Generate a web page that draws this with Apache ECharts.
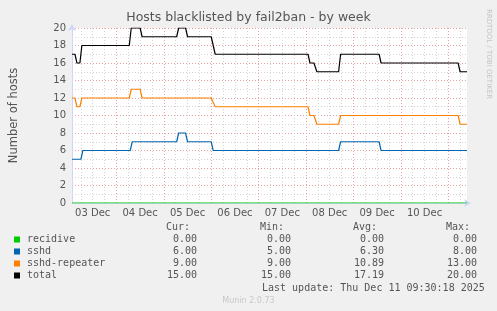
<!DOCTYPE html>
<html><head><meta charset="utf-8">
<script src="https://cdn.jsdelivr.net/npm/echarts@6/dist/echarts.min.js"></script>
<style>html,body{margin:0;padding:0;background:#F0F0F0}#c{width:497px;height:311px}</style>
</head><body><div id="c"></div>
<script>
// ---- data (change points) ----
const year = '2025-';
const recidive = [['12-03 01:30',0],['12-11 09:30',0]];
const sshd = [['12-03 01:30',5],['12-03 06:00',5],['12-03 07:00',6],['12-04 07:00',6],['12-04 08:00',7],
  ['12-05 06:30',7],['12-05 07:30',8],['12-05 11:00',8],['12-05 12:00',7],['12-06 00:00',7],['12-06 01:00',6],
  ['12-08 16:30',6],['12-08 17:30',7],['12-09 13:00',7],['12-09 14:00',6],['12-11 09:30',6]];
const sshdRepeater = [['12-03 01:30',12],['12-03 03:00',12],['12-03 04:00',11],['12-03 05:30',11],['12-03 06:30',12],
  ['12-04 06:30',12],['12-04 07:30',13],['12-04 12:00',13],['12-04 13:00',12],['12-06 00:00',12],['12-06 02:00',11],
  ['12-08 01:00',11],['12-08 02:00',10],['12-08 04:00',10],['12-08 05:30',9],['12-08 16:30',9],['12-08 17:30',10],
  ['12-11 05:00',10],['12-11 06:00',9],['12-11 09:30',9]];
const total = [['12-03 01:30',17],['12-03 03:00',17],['12-03 04:00',16],['12-03 05:30',16],['12-03 06:30',18],
  ['12-04 06:30',18],['12-04 07:30',20],['12-04 12:00',20],['12-04 13:00',19],['12-05 06:30',19],['12-05 07:30',20],
  ['12-05 11:00',20],['12-05 12:00',19],['12-06 00:00',19],['12-06 01:00',18],['12-06 02:00',17],
  ['12-08 01:00',17],['12-08 02:00',16],['12-08 04:00',16],['12-08 05:30',15],['12-08 16:30',15],['12-08 17:30',17],
  ['12-09 13:00',17],['12-09 14:00',16],['12-11 05:00',16],['12-11 06:00',15],['12-11 09:30',15]];
const dayLabels = ['03 Dec','04 Dec','05 Dec','06 Dec','07 Dec','08 Dec','09 Dec','10 Dec'];
const yTicks = [0,2,4,6,8,10,12,14,16,18,20];
const seriesNames = ['recidive','sshd','sshd-repeater','total'];
const seriesColors = ['#00CC00','#0066B3','#FF8000','#000000'];
const statHeaders = ['Cur:','Min:','Avg:','Max:'];
const statCur = ['0.00','6.00','9.00','15.00'];
const statMin = ['0.00','5.00','9.00','15.00'];
const statAvg = ['0.00','6.30','10.89','17.19'];
const statMax = ['0.00','8.00','13.00','20.00'];
const lastUpdate = 'Last update: Thu Dec 11 09:30:18 2025';
const startTime = '12-03 01:30', endTime = '12-11 09:30';

// ---- build ----
const seriesData = [recidive, sshd, sshdRepeater, total];
const toPts = arr => arr.map(p => [year + p[0], p[1]]);
const slots = [];
for (let i = 0; i <= 400; i++) slots.push(90 + i * 30); // minutes since Dec 3 00:00
const slotNames = slots.map(m => 's' + m);
const minOf = v => parseInt(String(v).slice(1), 10);
const isNoon = (i) => slots[i] % 1440 === 720;
const isMid = (i) => slots[i] % 1440 === 0;
const isSix = (i) => slots[i] % 360 === 0 && !isMid(i);

const FONT = 'DejaVu Sans';
const MONO = 'DejaVu Sans Mono';
const txtCol = '#555555';
const graphics = [];
const rowY = [239.5, 251.5, 263.5, 275.5];
const colX = [197, 291, 384, 477];
const hdrX = [190, 284, 377, 470];
const stats = [statCur, statMin, statAvg, statMax];
statHeaders.forEach((h, j) => graphics.push({type:'text', style:{text:h, x:hdrX[j], y:227.5, fill:txtCol,
  fontFamily:MONO, fontSize:10, textAlign:'right', align:'right', textVerticalAlign:'middle', verticalAlign:'middle'}}));
seriesNames.forEach((n, i) => {
  graphics.push({type:'rect', shape:{x:14, y:rowY[i]-3, width:6, height:6}, style:{fill:seriesColors[i]}});
  graphics.push({type:'text', style:{text:n, x:27, y:rowY[i], fill:txtCol, fontFamily:MONO, fontSize:10,
    textVerticalAlign:'middle', verticalAlign:'middle'}});
  stats.forEach((s, j) => graphics.push({type:'text', style:{text:s[i], x:colX[j], y:rowY[i], fill:txtCol,
    fontFamily:MONO, fontSize:10, textAlign:'right', align:'right', textVerticalAlign:'middle', verticalAlign:'middle'}}));
});
graphics.push({type:'text', style:{text:lastUpdate, x:262, y:288, fill:txtCol, fontFamily:MONO, fontSize:10,
  textVerticalAlign:'middle', verticalAlign:'middle'}});
graphics.push({type:'text', style:{text:'Munin 2.0.73', x:248.5, y:300.5, fill:'#c8c8c8', fontFamily:FONT, fontSize:8,
  textAlign:'center', align:'center', textVerticalAlign:'middle', verticalAlign:'middle'}});
graphics.push({type:'text', x:488.5, y:54, rotation:-Math.PI/2, style:{text:'RRDTOOL / TOBI OETIKER', x:0, y:0,
  fill:'#c4c4c4', fontFamily:FONT, fontSize:7, textAlign:'center', align:'center', textVerticalAlign:'middle', verticalAlign:'middle'}});

const chart = echarts.init(document.getElementById('c'), null, {renderer:'canvas'});
const axisBlue = '#CFD6F8';
chart.setOption({
  animation:false,
  backgroundColor:'#F0F0F0',
  textStyle:{fontFamily:FONT},
  title:{text:'Hosts blacklisted by fail2ban - by week', left:'center', top:11, padding:0,
    textStyle:{fontSize:12.5, fontWeight:'normal', color:txtCol, fontFamily:FONT}},
  grid:{left:67, top:28, width:400, height:175, show:true, backgroundColor:'#ffffff', borderWidth:0},
  xAxis:[
    {type:'time', position:'bottom', min:year+startTime, max:year+endTime, show:false},
    {type:'category', position:'bottom', data:slotNames, boundaryGap:false,
      axisLine:{show:true, lineStyle:{color:axisBlue, width:1}, symbol:['none','arrow'], symbolSize:[6,7], symbolOffset:[0,4]},
      axisTick:{show:false},
      axisLabel:{interval:(i)=>isNoon(i), margin:5, fontSize:10, color:txtCol, fontFamily:FONT,
        formatter:(v)=>dayLabels[Math.floor(minOf(v)/1440)]},
      splitLine:{show:true, interval:(i)=>isSix(i), lineStyle:{color:'#d4d4d4', type:[1,2], width:1}}},
    {type:'category', position:'bottom', data:slotNames, boundaryGap:false,
      axisLine:{show:false}, axisTick:{show:false}, axisLabel:{show:false},
      splitLine:{show:true, interval:(i)=>isMid(i), lineStyle:{color:'#eaa0a0', type:[1,2], width:1}}}
  ],
  yAxis:{type:'value', min:yTicks[0], max:yTicks[yTicks.length-1], interval:2,
    name:'Number of hosts', nameLocation:'middle', nameRotate:90, nameGap:52,
    nameTextStyle:{fontSize:11.5, color:txtCol, fontFamily:FONT},
    axisLine:{show:true, lineStyle:{color:axisBlue, width:1}, symbol:['none','arrow'], symbolSize:[6,7], symbolOffset:[0,4]},
    axisTick:{show:false},
    axisLabel:{margin:6, fontSize:10, color:txtCol, fontFamily:FONT},
    splitLine:{show:true, lineStyle:{color:'#eaa0a0', type:[1,2], width:1}},
    minorTick:{show:false, splitNumber:2},
    minorSplitLine:{show:true, lineStyle:{color:'#d4d4d4', type:[1,2], width:1}}},
  series: seriesNames.map((n, i) => ({
    name:n, type:'line', xAxisIndex:0, data:toPts(seriesData[i]), showSymbol:false, symbol:'none',
    lineStyle:{color:seriesColors[i], width:1.2}, itemStyle:{color:seriesColors[i]}, z:3+i
  })),
  graphic:graphics
});
</script></body></html>
